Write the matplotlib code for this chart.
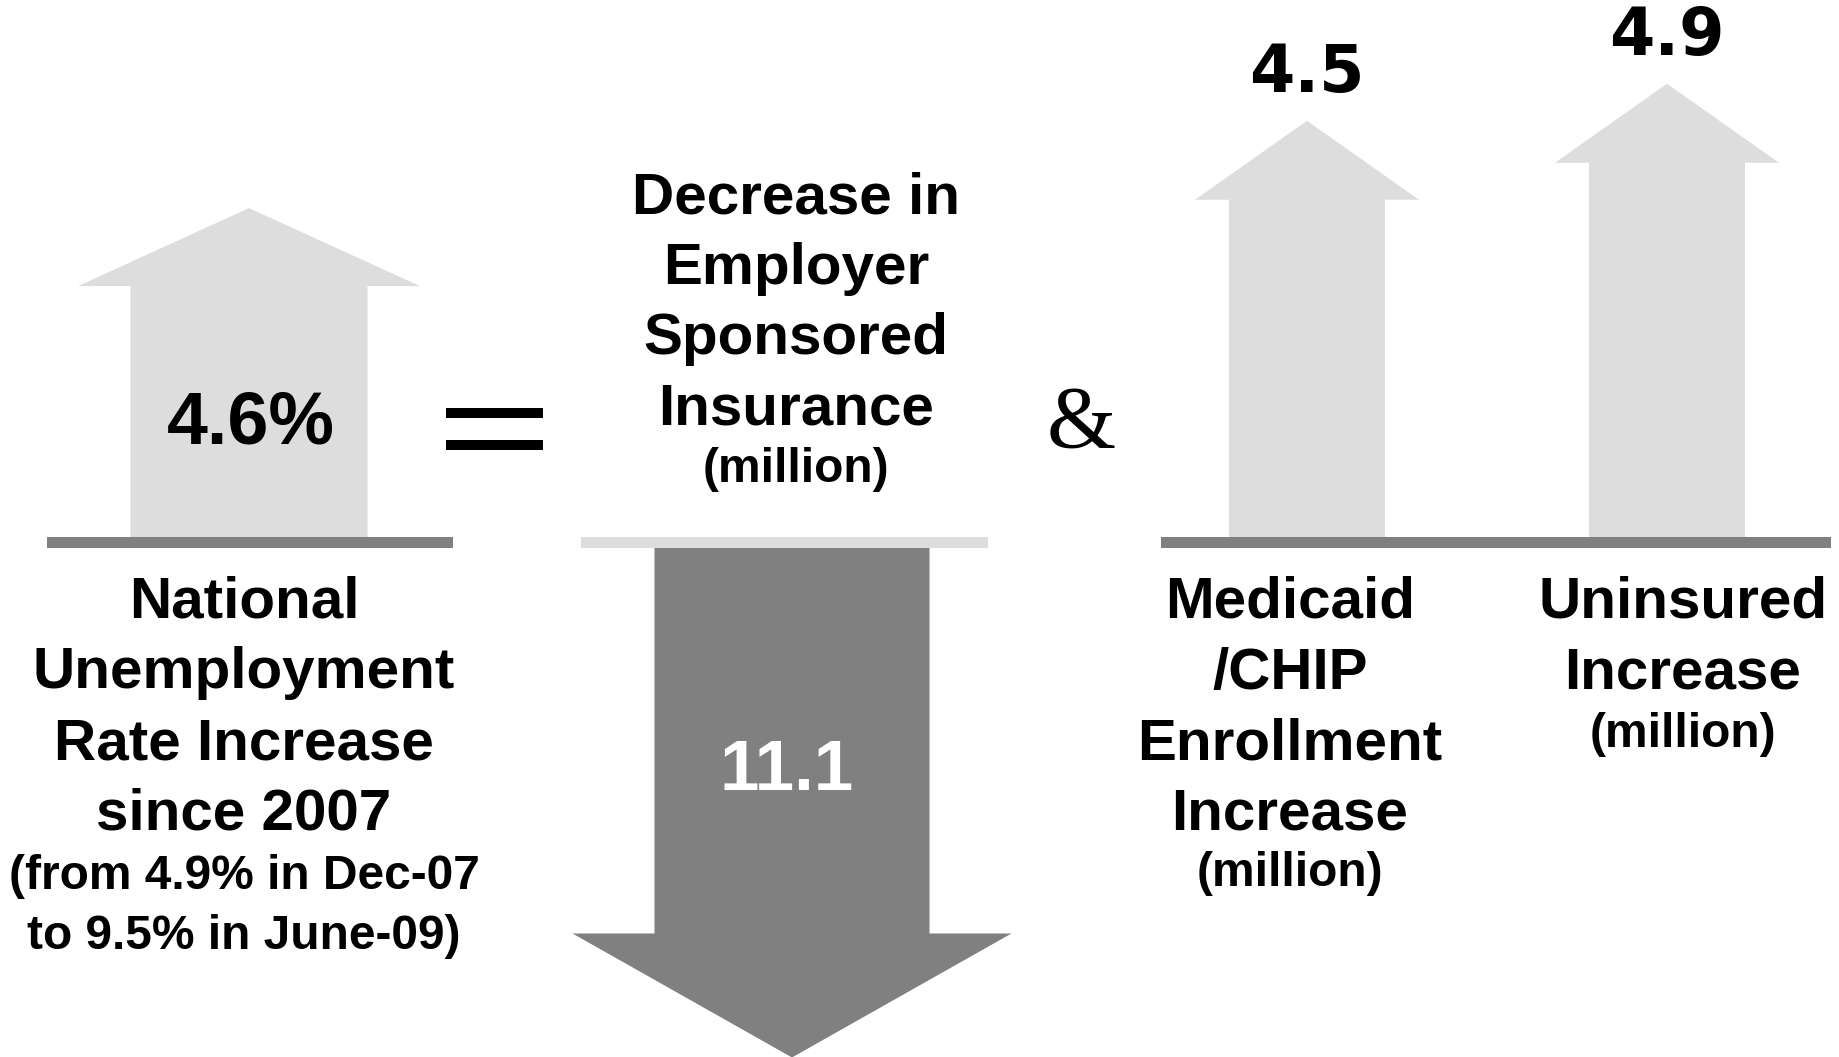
import matplotlib.pyplot as plt
from matplotlib.patches import Polygon, Rectangle

plt.rcParams["font.family"] = ["Liberation Sans", "DejaVu Sans"]

LIGHT = "#dddddd"
DARK = "#808080"

# values printed on the arrows
unemp_rise = 4.6      # percentage points
esi_drop = 11.1       # million
medicaid_rise = 4.5   # million
uninsured_rise = 4.9  # million

unemp_label = ["National", "Unemployment", "Rate Increase", "since 2007"]
unemp_note = ["(from 4.9% in Dec-07", "to 9.5% in June-09)"]
esi_label = ["Decrease in", "Employer", "Sponsored", "Insurance"]
medicaid_label = ["Medicaid", "/CHIP", "Enrollment", "Increase"]
uninsured_label = ["Uninsured", "Increase"]
unit_note = "(million)"

fig = plt.figure(figsize=(18.4, 10.57), dpi=100)
ax = fig.add_axes([0, 0, 1, 1])
ax.set_xlim(0, 1840)
ax.set_ylim(1057, 0)
ax.axis("off")


def arrow(x, y0, length, shaft_w, head_w, head_len, color, up=True):
    s = -1 if up else 1
    tip = y0 + s * length
    neck = tip - s * head_len
    pts = [(x - shaft_w / 2, y0), (x - shaft_w / 2, neck), (x - head_w / 2, neck),
           (x, tip), (x + head_w / 2, neck), (x + shaft_w / 2, neck), (x + shaft_w / 2, y0)]
    ax.add_patch(Polygon(pts, closed=True, fc=color, ec="none"))
    return tip


def lines(x, y0, rows, step, size):
    for i, r in enumerate(rows):
        ax.text(x, y0 + i * step, r, ha="center", va="baseline", fontsize=size, fontweight="bold")


BIG, SMALL = 42, 34.5

# --- unemployment panel
ax.add_patch(Rectangle((47, 537), 406, 11, fc=DARK, ec="none"))
arrow(249, 537, unemp_rise * 71.5, 237, 342, 78, LIGHT)
ax.text(251, 443, f"{unemp_rise}%", ha="center", va="baseline", fontsize=53, fontweight="bold")
lines(244, 618, unemp_label, 70.5, BIG)
lines(244, 889, unemp_note, 60, SMALL)

# equals sign
for y in (408, 440):
    ax.add_patch(Rectangle((446, y), 97, 10, fc="black", ec="none"))

# --- employer sponsored insurance panel
lines(796, 213, esi_label, 70.5, BIG)
ax.text(796, 482, unit_note, ha="center", va="baseline", fontsize=SMALL, fontweight="bold")
ax.add_patch(Rectangle((581, 537), 407, 11, fc=LIGHT, ec="none"))
arrow(792, 548, esi_drop * 45.9, 275, 439, 124, DARK, up=False)
ax.text(787, 790, f"{esi_drop}", ha="center", va="baseline", fontsize=51,
        fontweight="bold", color="white")

ax.text(1081, 447, "&", ha="center", va="baseline", fontsize=64, family="Liberation Serif")

# --- medicaid / uninsured panel
ax.add_patch(Rectangle((1161, 537), 670, 11, fc=DARK, ec="none"))
for cx, val in [(1307, medicaid_rise), (1667, uninsured_rise)]:
    tip = arrow(cx, 537, val * 92.5, 156, 224, 79, LIGHT)
    ax.text(cx, tip - 29, f"{val}", ha="center", va="baseline", fontsize=47,
            fontweight="bold", family="DejaVu Sans")

lines(1290, 618, medicaid_label, 70.5, BIG)
ax.text(1290, 886, unit_note, ha="center", va="baseline", fontsize=SMALL, fontweight="bold")
lines(1683, 618, uninsured_label, 70.5, BIG)
ax.text(1683, 747, unit_note, ha="center", va="baseline", fontsize=SMALL, fontweight="bold")

fig.savefig("out.png", dpi=100, facecolor="white")
